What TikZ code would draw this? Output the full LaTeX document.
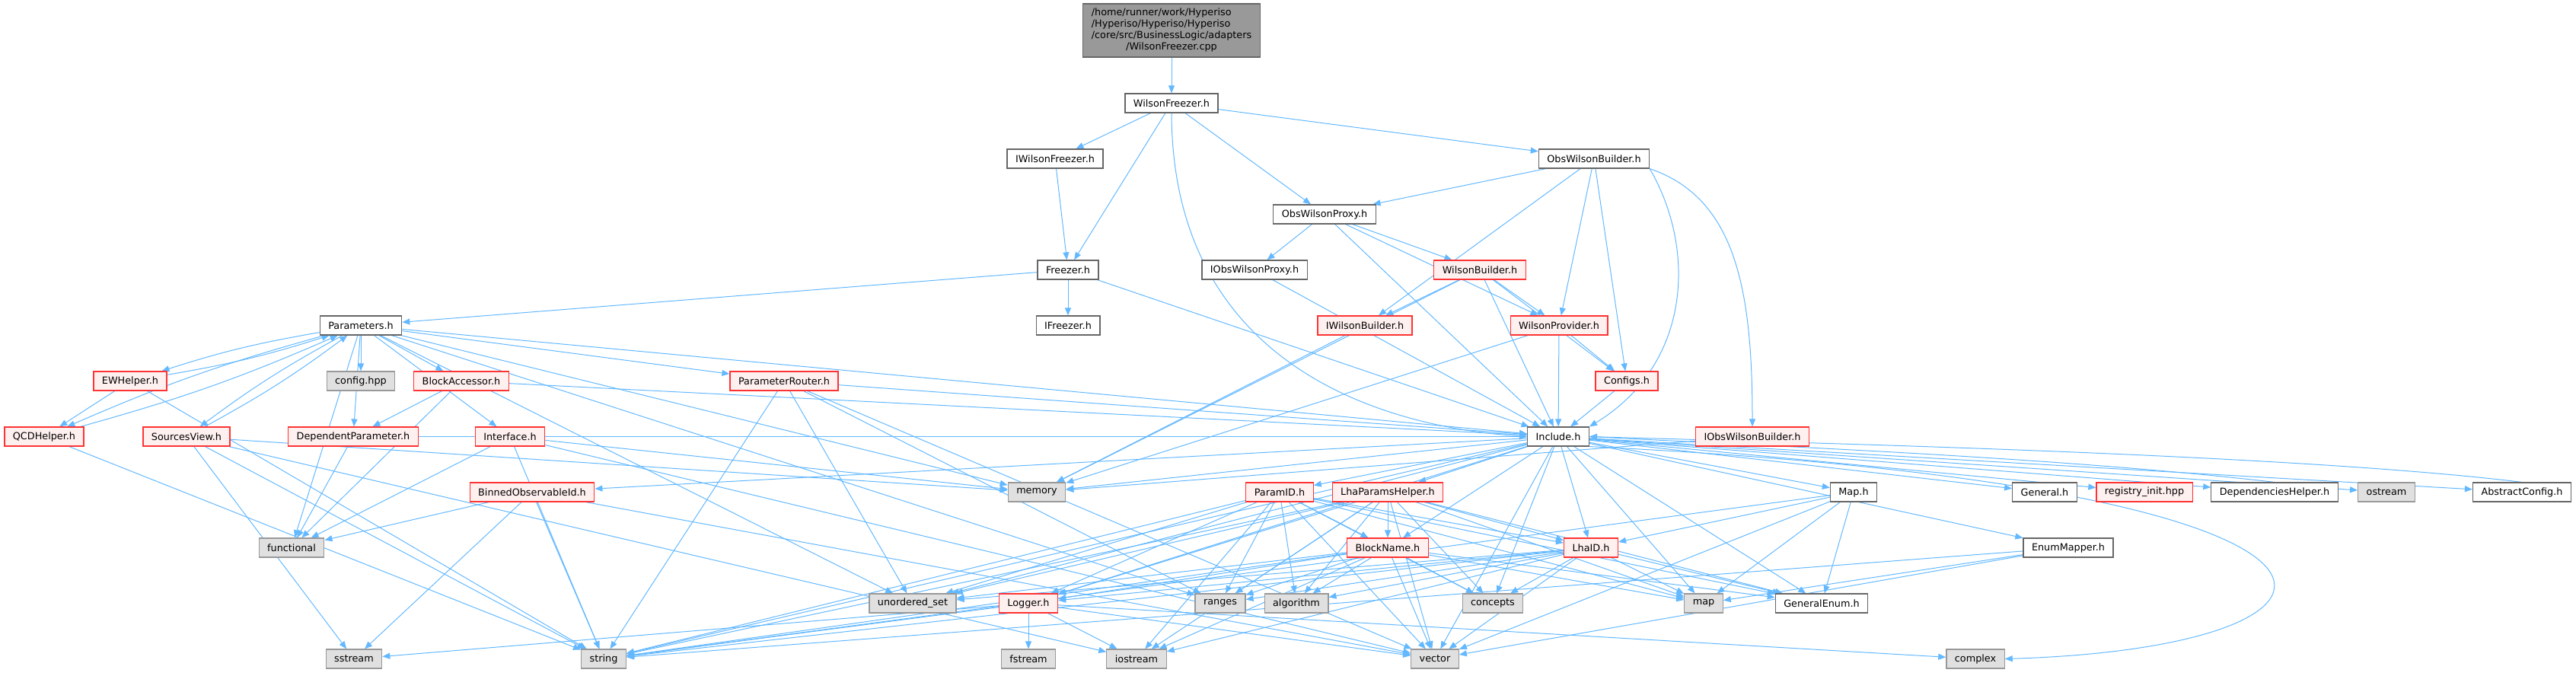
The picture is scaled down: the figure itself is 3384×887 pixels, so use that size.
\documentclass[tikz,border=0pt]{standalone}
\usepackage{fontspec}
\setmainfont{DejaVu Sans}
\usetikzlibrary{arrows.meta}
\pgfdeclarelayer{edges}
\pgfsetlayers{edges,main}

\definecolor{edgeblue}{HTML}{63B8FF}
\definecolor{hdrline}{HTML}{666666}
\definecolor{truncline}{HTML}{FF3333}
\definecolor{truncfill}{HTML}{FFF0F0}
\definecolor{sysline}{HTML}{999999}
\definecolor{sysfill}{HTML}{E0E0E0}
\definecolor{rootfill}{HTML}{999999}

\tikzset{
    hdr/.style={draw=hdrline, fill=white, line width=1.2pt, inner xsep=11pt,
        inner ysep=2pt, minimum height=25pt, font=\fontsize{12.8}{15}\selectfont},
    trunc/.style={hdr, draw=truncline, fill=truncfill},
    sys/.style={hdr, draw=sysline, fill=sysfill},
    dep/.style={edgeblue, line width=1pt, -{Triangle[length=10pt,width=8pt]}},
}

\begin{document}
\begin{tikzpicture}[x=1pt, y=-1pt]
    \useasboundingbox (0,0) rectangle (3384,887);

    % the source file and its first header
    \node[hdr, fill=rootfill, minimum height=70pt, inner ysep=4pt] (cpp) at (1539,40)
        {\begin{tabular}{@{}l@{}}/home/runner/work/Hyperiso\\/Hyperiso/Hyperiso/Hyperiso\\
         /core/src/BusinessLogic/adapters\\\multicolumn{1}{@{}c@{}}{/WilsonFreezer.cpp}\end{tabular}};
    \node[hdr] (wf) at (1539,135.5) {WilsonFreezer.h};

    % upper rows
    \node[hdr] (iwf) at (1386,208.5) {IWilsonFreezer.h};
    \node[hdr] (owb) at (2094,208.5) {ObsWilsonBuilder.h};
    \node[hdr] (owp) at (1740,281.5) {ObsWilsonProxy.h};
    \node[hdr] (frz) at (1403,354.5) {Freezer.h};
    \node[hdr] (iowp) at (1648,354.5) {IObsWilsonProxy.h};
    \node[trunc] (wb) at (1944,354.5) {WilsonBuilder.h};
    \node[hdr] (par) at (474,427.5) {Parameters.h};
    \node[hdr] (ifrz) at (1403,427.5) {IFreezer.h};
    \node[trunc] (iwb) at (1793,427.5) {IWilsonBuilder.h};
    \node[trunc] (wp) at (2048,427.5) {WilsonProvider.h};

    % middle rows
    \node[trunc] (ewh) at (171,500.5) {EWHelper.h};
    \node[sys] (cfghpp) at (474,500.5) {config.hpp};
    \node[trunc] (bacc) at (606,500.5) {BlockAccessor.h};
    \node[trunc] (prouter) at (1030,500.5) {ParameterRouter.h};
    \node[trunc] (cfgs) at (2137,500.5) {Configs.h};
    \node[trunc] (qcd) at (58,573.5) {QCDHelper.h};
    \node[trunc] (srcv) at (245,573.5) {SourcesView.h};
    \node[trunc] (depp) at (464,573.5) {DependentParameter.h};
    \node[trunc] (iface) at (670,573.5) {Interface.h};
    \node[hdr] (inc) at (2047,573.5) {Include.h};
    \node[trunc] (iowb) at (2302,573.5) {IObsWilsonBuilder.h};
    \node[trunc] (bobs) at (699,646.5) {BinnedObservableId.h};
    \node[sys] (mem) at (1362,646.5) {memory};
    \node[trunc] (pid) at (1681,646.5) {ParamID.h};
    \node[trunc] (lhph) at (1823,646.5) {LhaParamsHelper.h};
    \node[hdr] (maph) at (2435,646.5) {Map.h};
    \node[hdr] (gen) at (2686,646.5) {General.h};
    \node[trunc] (reg) at (2817,646.5) {registry\_init.hpp};
    \node[hdr] (deph) at (2988,646.5) {DependenciesHelper.h};
    \node[sys] (ostr) at (3135,646.5) {ostream};
    \node[hdr] (absc) at (3313,646.5) {AbstractConfig.h};

    % lower rows
    \node[sys] (func) at (383,719.5) {functional};
    \node[trunc] (bname) at (1823,719.5) {BlockName.h};
    \node[trunc] (lhaid) at (2090,719.5) {LhaID.h};
    \node[hdr] (emap) at (2717,719.5) {EnumMapper.h};
    \node[sys] (uset) at (1199,792.5) {unordered\_set};
    \node[trunc] (log) at (1351,792.5) {Logger.h};
    \node[sys] (rng) at (1603,792.5) {ranges};
    \node[sys] (alg) at (1703,792.5) {algorithm};
    \node[sys] (conc) at (1961,792.5) {concepts};
    \node[sys] (mp) at (2238,792.5) {map};
    \node[hdr] (genum) at (2393,792.5) {GeneralEnum.h};
    \node[sys] (sstr) at (465,865.5) {sstream};
    \node[sys] (str) at (793,865.5) {string};
    \node[sys] (fstr) at (1351,865.5) {fstream};
    \node[sys] (iostr) at (1493,865.5) {iostream};
    \node[sys] (vec) at (1885,865.5) {vector};
    \node[sys] (cplx) at (2595,865.5) {complex};

    \begin{pgfonlayer}{edges}
    \draw[dep] (cpp) -- (wf);
    \foreach \t in {iwf,frz,owp,owb} \draw[dep] (wf) -- (\t);
    \draw[dep] (wf.south) .. controls (1540,470) and (1800,560) .. (inc.west);
    \draw[dep] (iwf) -- (frz);
    \foreach \t in {par,ifrz,inc} \draw[dep] (frz) -- (\t);
    \foreach \t in {owp,iwb,wp,cfgs} \draw[dep] (owb) -- (\t);
    \draw[dep] (owb.south east) .. controls (2230,330) and (2220,480) .. (inc.north east);
    \draw[dep] (owb.south east) .. controls (2280,260) and (2302,380) .. (iowb.north);
    \foreach \t in {iowp,wb,wp,inc} \draw[dep] (owp) -- (\t);
    \draw[dep] (iowp) -- (inc);
    \foreach \t in {iwb,wp,cfgs,inc,mem} \draw[dep] (wb) -- (\t);
    \draw[dep] (iwb) -- (mem);
    \foreach \t in {inc,cfgs,mem} \draw[dep] (wp) -- (\t);
    \draw[dep] (cfgs) -- (inc);
    \draw[dep] (iowb) -- (mem);

    % Parameters.h and the helpers that include it back
    \foreach \t in {ewh,qcd,srcv} {
        \draw[dep] (par) to[bend right=4] (\t);
        \draw[dep] (\t) to[bend right=4] (par);
    }
    \foreach \t in {cfghpp,bacc,depp,iface,prouter,func,mem,uset,rng,inc} \draw[dep] (par) -- (\t);
    \foreach \t in {qcd,str} \draw[dep] (ewh) -- (\t);
    \draw[dep] (qcd) -- (str);
    \foreach \t in {sstr,str,mem,iostr} \draw[dep] (srcv) -- (\t);
    \foreach \t in {depp,func,inc} \draw[dep] (bacc) -- (\t);
    \foreach \t in {inc,str,uset,rng,vec} \draw[dep] (prouter) -- (\t);
    \foreach \t in {func,inc} \draw[dep] (depp) -- (\t);
    \foreach \t in {func,str,mem,vec} \draw[dep] (iface) -- (\t);
    \foreach \t in {func,sstr,str,vec} \draw[dep] (bobs) -- (\t);

    % Include.h
    \foreach \t in {bobs,mem,pid,lhph,bname,lhaid,log,str,conc,mp,genum,vec,
        maph,gen,reg,deph,ostr,absc,emap,uset} \draw[dep] (inc) -- (\t);
    \draw[dep] (inc.south east) .. controls (3200,640) and (3150,850) .. (cplx.east);
    \draw[dep] (deph.north) .. controls (2700,600) and (2300,585) .. (inc.east);
    \draw[dep] (absc.north) .. controls (3000,595) and (2300,580) .. (inc.east);

    % the parameter headers
    \foreach \t in {str,uset,log,rng,alg,bname,lhaid,conc,mp,genum,vec,iostr} \draw[dep] (pid) -- (\t);
    \foreach \t in {bname,rng,alg,conc,lhaid,mp,genum,vec,log,uset,str,iostr} \draw[dep] (lhph) -- (\t);
    \foreach \t in {log,uset,rng,alg,conc,mp,genum,vec,str,iostr} \draw[dep] (bname) -- (\t);
    \foreach \t in {log,uset,rng,alg,conc,mp,genum,vec,str,iostr} \draw[dep] (lhaid) -- (\t);
    \foreach \t in {lhaid,mp,genum,vec,str} \draw[dep] (maph) -- (\t);
    \foreach \t in {mp,str,vec} \draw[dep] (emap) -- (\t);
    \foreach \t in {str,sstr,fstr,iostr,vec,cplx} \draw[dep] (log) -- (\t);
    \end{pgfonlayer}
\end{tikzpicture}
\end{document}
